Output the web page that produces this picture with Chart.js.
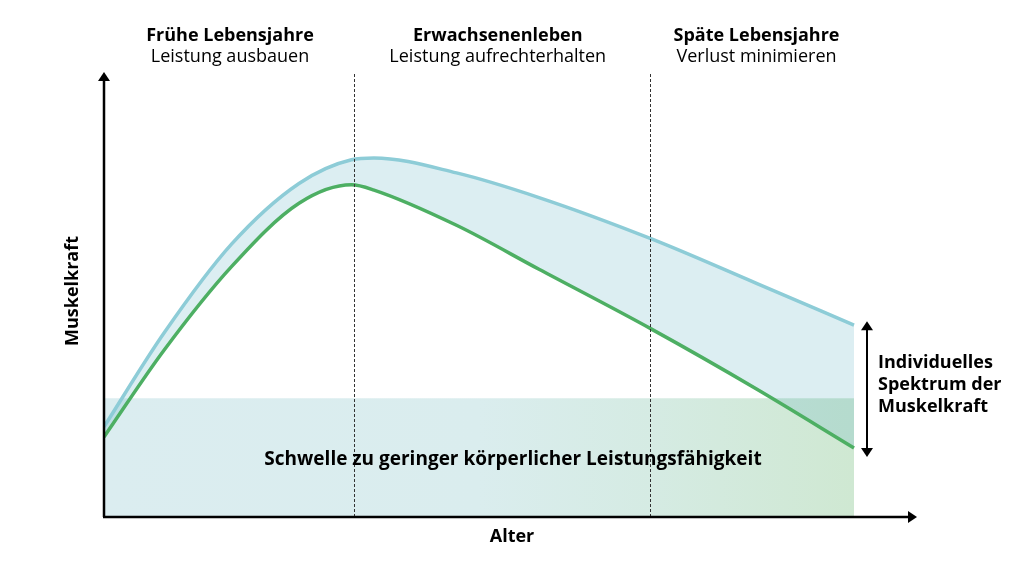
<!DOCTYPE html>
<html>
<head>
<meta charset="utf-8">
<script src="https://cdn.jsdelivr.net/npm/chart.js@4"></script>
<style>
  html, body { margin: 0; padding: 0; background: #fff; }
  #wrap { width: 1024px; height: 576px; }
</style>
</head>
<body>
<div id="wrap"><canvas id="kraftChart" width="1024" height="576"></canvas></div>
<script>
// Alter (abstrakte Einheiten) und Muskelkraft-Werte
const alter = [0, 8, 17, 26, 33, 36, 47, 58, 73, 87, 100];
const kraftOben = [20.5, 41.8, 62.0, 75.8, 81.2, 81.6, 78.2, 72.6, 63.2, 53.1, 43.6];
const kraftUnten = [18.2, 37.9, 56.9, 71.3, 75.5, 74.3, 66.3, 56.3, 42.7, 29.1, 15.7];
const schwelle = 27;
const phasenGrenzen = [33.3, 72.8];
const phasenTitel = ['Frühe Lebensjahre', 'Erwachsenenleben', 'Späte Lebensjahre'];
const phasenUntertitel = ['Leistung ausbauen', 'Leistung aufrechterhalten', 'Verlust minimieren'];
const phasenMitte = [16.8, 52.5, 87];

function toPoints(ys) {
  return alter.map((x, i) => ({ x: x, y: ys[i] }));
}

function bandGradient(ctx) {
  const chart = ctx.chart;
  if (!chart.chartArea) return '#dbedf0';
  const xs = chart.scales.x;
  const g = chart.ctx.createLinearGradient(xs.getPixelForValue(0), 0, xs.getPixelForValue(100), 0);
  g.addColorStop(0, '#dbedf0');
  g.addColorStop(0.5, '#daedee');
  g.addColorStop(0.73, '#d5ebe3');
  g.addColorStop(1, '#cfe8d2');
  return g;
}

function arrowHead(ctx, x, y, dir) {
  ctx.beginPath();
  if (dir === 'up') { ctx.moveTo(x, y); ctx.lineTo(x - 6, y + 9); ctx.lineTo(x + 6, y + 9); }
  if (dir === 'down') { ctx.moveTo(x, y); ctx.lineTo(x - 6, y - 9); ctx.lineTo(x + 6, y - 9); }
  if (dir === 'right') { ctx.moveTo(x, y); ctx.lineTo(x - 9, y - 6); ctx.lineTo(x - 9, y + 6); }
  ctx.closePath();
  ctx.fill();
}

const deko = {
  id: 'deko',
  afterDatasetsDraw(chart) {
    const ctx = chart.ctx;
    const xs = chart.scales.x, ys = chart.scales.y;
    const x0 = xs.getPixelForValue(0), y0 = ys.getPixelForValue(0);
    ctx.save();

    // gestrichelte Phasengrenzen
    ctx.strokeStyle = '#333';
    ctx.lineWidth = 1;
    ctx.setLineDash([3, 2]);
    phasenGrenzen.forEach(v => {
      const px = Math.round(xs.getPixelForValue(v)) + 0.5;
      ctx.beginPath();
      ctx.moveTo(px, 74);
      ctx.lineTo(px, y0);
      ctx.stroke();
    });
    ctx.setLineDash([]);

    // Achsen mit Pfeilen
    ctx.strokeStyle = '#000';
    ctx.fillStyle = '#000';
    ctx.lineWidth = 2.5;
    ctx.beginPath();
    ctx.moveTo(x0, y0);
    ctx.lineTo(x0, 80);
    ctx.moveTo(x0 - 1, y0);
    ctx.lineTo(908, y0);
    ctx.stroke();
    arrowHead(ctx, x0, 72, 'up');
    arrowHead(ctx, 917, y0, 'right');

    // Doppelpfeil Spektrum
    const ax = 867;
    const yTop = ys.getPixelForValue(kraftOben[kraftOben.length - 1]) - 4;
    const yBot = ys.getPixelForValue(kraftUnten[kraftUnten.length - 1]) + 9;
    ctx.lineWidth = 2;
    ctx.beginPath();
    ctx.moveTo(ax, yTop + 6);
    ctx.lineTo(ax, yBot - 6);
    ctx.stroke();
    arrowHead(ctx, ax, yTop, 'up');
    arrowHead(ctx, ax, yBot, 'down');

    // Texte
    ctx.textBaseline = 'middle';
    ctx.textAlign = 'center';
    phasenTitel.forEach((t, i) => {
      const px = xs.getPixelForValue(phasenMitte[i]);
      ctx.font = 'bold 18px "Open Sans"';
      ctx.fillText(t, px, 36);
      ctx.font = '18px "Open Sans"';
      ctx.fillText(phasenUntertitel[i], px, 57);
    });

    ctx.font = 'bold 19px "Open Sans"';
    ctx.fillText('Schwelle zu geringer körperlicher Leistungsfähigkeit', 513, 460);
    ctx.font = 'bold 18px "Open Sans"';
    ctx.fillText('Alter', 512, 537);

    ctx.save();
    ctx.translate(73, 291);
    ctx.rotate(-Math.PI / 2);
    ctx.fillText('Muskelkraft', 0, 0);
    ctx.restore();

    ctx.textAlign = 'left';
    ['Individuelles', 'Spektrum der', 'Muskelkraft'].forEach((t, i) => {
      ctx.fillText(t, 878, 363 + i * 22);
    });
    ctx.restore();
  }
};

new Chart(document.getElementById('kraftChart'), {
  type: 'line',
  data: {
    datasets: [
      {
        label: 'Oberer Verlauf',
        data: toPoints(kraftOben),
        borderColor: '#8dccd7',
        borderWidth: 3.5,
        backgroundColor: 'rgba(80, 170, 190, 0.2)',
        fill: 1,
        pointRadius: 0,
        cubicInterpolationMode: 'monotone'
      },
      {
        label: 'Unterer Verlauf',
        data: toPoints(kraftUnten),
        borderColor: '#4daf63',
        borderWidth: 3.5,
        fill: false,
        pointRadius: 0,
        cubicInterpolationMode: 'monotone'
      },
      {
        label: 'Schwelle',
        data: [{ x: 0, y: schwelle }, { x: 100, y: schwelle }],
        borderWidth: 0,
        borderColor: 'rgba(0,0,0,0)',
        backgroundColor: bandGradient,
        fill: 'origin',
        pointRadius: 0
      }
    ]
  },
  options: {
    responsive: false,
    animation: false,
    layout: { padding: { left: 104, right: 110, top: 77, bottom: 59 } },
    scales: {
      x: { type: 'linear', min: 0, max: 108, display: false },
      y: { min: 0, max: 100, display: false }
    },
    plugins: {
      legend: { display: false },
      tooltip: { enabled: false },
      filler: { drawTime: 'beforeDatasetsDraw' }
    }
  },
  plugins: [deko]
});
</script>
</body>
</html>
